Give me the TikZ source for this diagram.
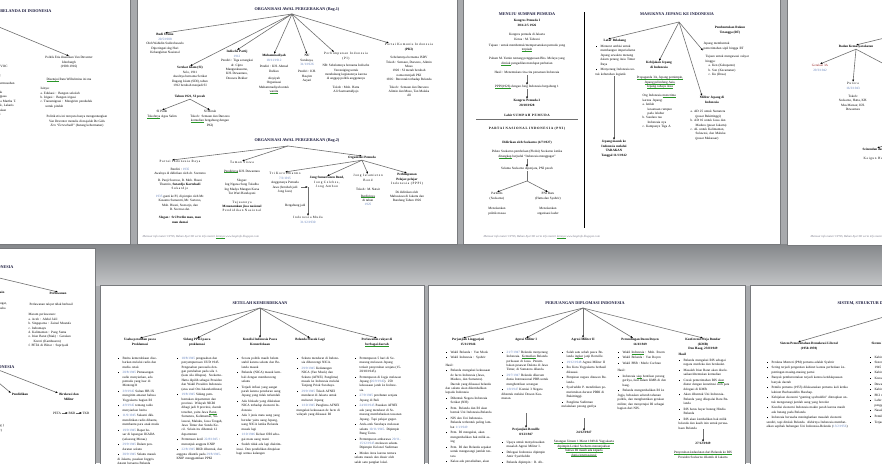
\documentclass[tikz,border=0pt]{standalone}
\usepackage{fontspec}
\setmainfont{Liberation Serif}
\usetikzlibrary{arrows.meta}
\definecolor{latar}{RGB}{168,170,173}
\definecolor{pita}{RGB}{132,135,138}
\definecolor{tepi}{RGB}{120,122,125}
\definecolor{garis}{RGB}{112,112,112}
\definecolor{tinta}{RGB}{25,25,60}
\definecolor{tanggal}{RGB}{95,125,185}
\definecolor{hijau}{RGB}{40,150,40}
\definecolor{merah}{RGB}{150,35,35}
\definecolor{abu}{RGB}{120,120,135}
\newcommand\kecil{\fontsize{3.3}{4.4}\selectfont}
\newcommand\judulfont{\fontsize{4.2}{5}\selectfont\bfseries}
\newcommand\kakifont{\fontsize{3}{3.6}\selectfont\itshape}
\newcommand\tgl[1]{\textcolor{tanggal}{#1}}
\newsavebox\kotakejaan
\newcommand\ejaan[1]{\sbox\kotakejaan{#1}\rlap{\textcolor{hijau}{\rule[-0.9pt]{\wd\kotakejaan}{0.6pt}}}\usebox\kotakejaan}
\newcommand\renggang[1]{{\addfontfeature{LetterSpace=20}#1}}
\newcommand\butir{\par\vspace{1.2pt}\hangindent=5pt\hangafter=1\noindent\makebox[5pt][l]{\rule[0.4pt]{1.1pt}{1.1pt}}}
\newcommand\subjudul[1]{\par\vspace{3pt}\noindent #1}

\begin{document}
\begin{tikzpicture}[x=1pt, y=-1pt,
  every node/.style={font=\kecil, inner sep=0.4pt},
  judul/.style={font=\judulfont, text=tinta},
  teks/.style={align=center, anchor=north},
  kepala/.style={align=center, anchor=north, font=\kecil\bfseries},
  kolom/.style={align=left, text width=#1, anchor=north west},
  panah/.style={draw=garis, line width=0.6pt, -{Latex[length=2.4pt, width=2pt, color=black]}},
  halaman/.style={fill=white, draw=tepi, line width=0.4pt},
  kaki/.style={font=\kakifont, text=abu, anchor=west}
]
\useasboundingbox (0,0) rectangle (882,463);

%% latar belakang jendela
\fill[latar] (0,0) rectangle (882,463);
\shade[top color=pita, bottom color=latar!70!white] (0,244) rectangle (882,285);

%% halaman
\path[halaman] (-2,-2) rectangle (130,244);
\path[halaman] (137,-2) rectangle (457,244);
\path[halaman] (463,-2) rectangle (780,244);
\path[halaman] (787,-2) rectangle (884,245);
\path[halaman] (-2,248) rectangle (95,465);
\path[halaman] (100,285) rectangle (424,465);
\path[halaman] (428,285) rectangle (745,465);
\path[halaman] (750,285) rectangle (884,465);

%% ---------------- halaman A : politik etis
\begin{scope}
\clip (0,0) rectangle (130,244);
\node[judul, anchor=east] (judulA) at (52,11) {KEBIJAKAN PEMERINTAH BELANDA DI INDONESIA};
\coordinate (pusatA) at (-30,15);
\node[teks] (etis) at (69,56) {Politik Etis diusulkan Van Deventer\\Idenburgh\\(1909-1916)};
\draw[panah] (pusatA) -- (etis.north);
\node[teks] (wilhelmina) at (69,78) {\ejaan{Disetujui} Ratu Wilhelmina ini ma};
\node[kolom=70pt] (isi) at (40,87) {Isinya:\\a.\ Edukasi : Bangun sekolah\\b.\ Irigasi : Bangun irigasi\\c.\ Transmigrasi : Mengirim penduduk\\\hspace*{5pt}untuk pindah};
\node[teks] (hutang) at (77,115) {Politik etis ini ternyata hanya menguntungkan\\Van Deventer menulis di majalah De Gids\\\textit{Een ``Eereschuld''} (hutang kehormatan)};
\node[kolom=78pt] (perlawananA) at (-44,65) {Perlawanan terhadap Monopoli, VOC\\[4pt]Kebijakan Daendels dan Raffles;\\[4pt]a.\ Maluku : Pattimura, sering Bermusuhan\\b.\ Perang Padri di Kesultanan\\c.\ Jawa : Diponegoro, Tapi Jenak\\d.\ Bali : Jagaraga, Jelantik Tanggasa\\e.\ Maluku : Thomas M., Cristina Martha T.\\f.\ Aceh : Teuku Umar, Cut Nyak, Lakaris\\g.\ Banjar : Antasari, Pemberontakan\\h.\ Bali : Jagaraga, Ketut I Gusti\\[4pt]i.\ Tapanuli : Singamangaraja\\j.\ Minang dipimpin Imam\\[8pt]k.\ Tokoh : Pangeran};
\end{scope}

%% ---------------- halaman B : organisasi awal pergerakan
\begin{scope}
\clip (137,0) rectangle (457,244);
\node[judul] (judulB1) at (297,10) {ORGANISASI AWAL PERGERAKAN (Bag.1)};
\coordinate (pusatB1) at (292,14);
\node[teks] (budi) at (165,33) {\textbf{Budi Utomo}\\\tgl{20/5/1908}\\Oleh Wahidin Sudirohusodo\\Diperingati sbg Hari\\Kebangkitan Nasional};
\node[teks] (si) at (190,66) {\textbf{Serekat Islam (SI)}\\Solo, 1911\\Awalnya bernama Serikat\\Dagang Islam (SDI), tahun\\1912 berubah menjadi SI};
\node[teks] (sipecah) at (190,95) {\textbf{Tahun 1921, SI pecah}};
\node[teks] (siputih) at (162,110) {SI Putih\\\ejaan{Tokohnya} Agus Salim};
\node[teks] (simerah) at (210,110) {SI Merah\\Tokoh : Semaun dan Darsono\\\ejaan{kemudian} bergabung dengan\\PKI)};
\node[teks] (ip) at (237,50) {\textbf{Indische Partij}\\\tgl{1912}\\Pendiri : Tiga serangkai\\dr. Cipto\\Mangunkusumo,\\KH. Dewantara,\\Douwes Dekker};
\node[teks] (muh) at (274,54) {\textbf{Muhammadiyah}\\\tgl{18/11/1912}\\[2pt]Pendiri : KH. Ahmad\\Dahlan\\[3pt]Aisyiyah\\Organisasi\\Muhammadiyah untuk\\\ejaan{wanita}};
\node[teks] (nu) at (307,54) {\textbf{NU}\\Surabaya,\\\tgl{31/1/1926}\\[3pt]Pendiri : KH.\\Hasyim\\Asyari};
\node[teks] (pi) at (346,52) {\renggang{Perhimpunan Indonesia}\\\renggang{(PI)}\\[3pt]NB: Sebelumnya bernama Indische\\Vereeniging untuk\\mendukung kegiatannya karena\\di anggap politik anggotanya\\[4pt]Tokoh : Moh. Hatta\\Ali Sastroamidjojo};
\node[teks] (pki) at (409,43) {\renggang{Partai Komunis Indonesia}\\\textbf{(PKI)}\\[4pt]Sebelumnya bernama ISDV\\Tokoh : Semaun, Darsono, Alimin\\Muso\\1920 : SI merah berubah\\nama menjadi PKI\\1926 : Berontak terhadap Belanda\\[3pt]Tokoh : Semaun dan Darsono\\Alimin dan Muso, Tan Malaka\\dll};

\draw[panah] (pusatB1) -- (budi.north);
\draw[panah] (pusatB1) -- (si.north);
\draw[panah] (pusatB1) -- (ip.north);
\draw[panah] (pusatB1) -- (muh.north);
\draw[panah] (pusatB1) -- (nu.north);
\draw[panah] (pusatB1) -- ([xshift=-12pt]pi.north);
\draw[panah] (pusatB1) -- ([xshift=-20pt]pki.north);
\draw[panah] (sipecah.south) -- (siputih.north);
\draw[panah] (sipecah.south) -- (simerah.north);

\node[judul] (judulB2) at (297,141) {ORGANISASI AWAL PERGERAKAN (Bag.2)};
\coordinate (pusatB2) at (288,146);
\node[teks] (parindra) at (180,160) {\renggang{Partai Indonesia Raya}\\[3pt]Berdiri : \tgl{1935}\\Awalnya di didirikan oleh dr. Soetomo\\[2pt]R. Panji Soeroso, R. Moh. Husni\\Thamrin, \textbf{Sutardjo Kartohadi}\\\renggang{Sukardjo}\\[3pt]\tgl{1935} ganti ke PI, di pimpin oleh Mr.\\Kusumo Sumantri, Mr. Sartono,\\Moh. Husni, Soenarjo, dan\\R. Soeroso dst.\\[4pt]\textbf{Slogan : Sri Perdin mau, mau}\\\textbf{mau damai}};
\node[teks] (taman) at (242,161) {\renggang{Taman Siswa}\\[4pt]\ejaan{Pendirinya} KH. Dewantara\\[5pt]Slogan:\\Ing Ngarsa Sung Tuladha\\Ing Madya Mangun Karsa\\Tut Wuri Handayani\\[4pt]\renggang{Tujuannya}\\\textbf{Menanamkan jiwa nasional}\\\renggang{Pendidikan Nasional}};
\node[kepala] (orgpemuda) at (362,156) {Organisasi Pemuda};
\node[teks] (tkd) at (285,172) {\renggang{Tri Koro Dharmo}\\\tgl{7/3/1915}\\Anggotanya Pemuda\\Jawa (berubah jadi\\Jong Java)};
\node[teks] (jsb) at (327,176) {\textbf{Jong Sumatranen Bond,}\\\renggang{Jong Celebes,}\\\renggang{Jong Ambon}};
\node[teks] (jib) at (368,174) {\renggang{Jong Islamieten}\\\renggang{Bond}\\[5pt]Tokoh : M. Natsir\\[2pt]\ejaan{Berdirinya}\\di tahun\\\tgl{1925}};
\node[teks] (pppiB) at (407,173) {\textbf{Perhimpunan}\\\textbf{Pelajar-pelajar}\\\renggang{Indonesia (PPPI)}\\[4pt]Di didirikan oleh\\Mahasiswa di Jakarta dan\\Bandung Tahun 1926};
\coordinate (gabung) at (308,187);
\node[teks] (indomuda) at (308,216) {\renggang{Indonesia Muda}\\\tgl{31/12/1930}};
\node[anchor=east] (labelgabung) at (306,206) {Bergabung jadi};

\draw[panah] (pusatB2) -- ([xshift=-8pt]parindra.north);
\draw[panah] (pusatB2) -- (taman.north);
\draw[panah] (pusatB2) -- (orgpemuda.north);
\draw[panah] (orgpemuda.south) -- (tkd.north);
\draw[panah] (orgpemuda.south) -- (jsb.north);
\draw[panah] (orgpemuda.south) -- (jib.north);
\draw[panah] (orgpemuda.south) -- (pppiB.north);
\draw[panah] (tkd.east |- gabung) -- (gabung);
\draw[panah] (gabung) -- (indomuda.north);

\node[kaki] (kakiB) at (142,237) {Memuat info materi CPNS, Bahan Ajar SD serta info materi \ejaan{lainnya} www.bagiinfo.blogspot.com};
\end{scope}

%% ---------------- halaman C : sumpah pemuda dan masuknya jepang
\begin{scope}
\clip (463,0) rectangle (780,244);
\node[judul] (judulC1) at (527,14) {MENUJU SUMPAH PEMUDA};
\node[kepala] (kp1) at (527,19) {Kongres Pemuda I\\30/4-2/5 1926};
\node[teks] (kp1isi) at (527,33) {Kongres pemuda di Jakarta\\Ketua : M. Tabrani\\[1.5pt]Tujuan : untuk membentuk/mempersatukan pemuda yang\\\ejaan{terpisah}};
\node[teks] (yamin) at (527,57) {Paham M. Yamin tentang penggunaan Bhs. Melayu yang\\\ejaan{ditolak} pengadilan mendapat perhatian};
\node[teks] (hasilkp1) at (527,71) {Hasil : Menentukan cita-cita persatuan Indonesia};
\node[teks] (pppi) at (527,85) {\ejaan{PPPI(1926)} dengan Jong Indonesia bergabung 1};
\node[kepala] (kp2) at (527,99) {Kongres Pemuda 2\\28/10/1928};
\node[kepala] (sumpah) at (527,114) {Lahir \renggang{SUMPAH PEMUDA}};
\node[kepala] (pni) at (527,127) {\renggang{PARTAI NASIONAL INDONESIA (PNI)}};
\node[kepala] (pnidiri) at (527,141) {Didirikan oleh Soekarno (4/7/1927)};
\node[teks] (pledoi) at (527,150) {Pidato Soekarno pembelaan (Pledoi) Soekarno ketika\\\ejaan{ditangkap} berjudul ``Indonesia menggugat''};
\node[teks] (pecahpni) at (527,167) {Selama Soekarno dipenjara, PNI pecah};
\coordinate (pusatPNI) at (527,181);
\node[teks] (partindo) at (497,192) {Partindo\\(Soekarno)};
\node[teks] (pnibaru) at (548,192) {PNI Baru\\(Hatta dan Syahrir)};
\node[teks] (massa) at (497,207) {Menekankan\\politik massa};
\node[teks] (kader) at (548,207) {Menekankan\\organisasi kader};

\draw[panah] (hasilkp1) -- (pppi);
\draw[panah] (pppi) -- (kp2);
\draw[garis, line width=0.6pt] (476,119) -- (578,119);
\draw[panah, line width=0.4pt] (pledoi) -- (pecahpni);
\draw[garis, line width=0.6pt] (pecahpni) -- (pusatPNI);
\draw[panah] (pusatPNI) -- (partindo.north);
\draw[panah] (pusatPNI) -- (pnibaru.north);

\draw[line width=0.7pt] (584,12) -- (584,228);

\node[judul] (judulC2) at (677,14) {MASUKNYA JEPANG KE INDONESIA};
\coordinate (pusatC2) at (679,22);
\node[kolom=42pt] (latarbelakang) at (595,39) {\hspace*{8pt}\textbf{Latar Belakang}\butir Menurut ambisi untuk membangun imperialisme Jepang sewaktu menang dalam perang Asia Timur Raya\butir Menyerang Indonesia untuk kebutuhan logistik};
\node[kepala] (tarakan) at (614,140) {Jepang masuk ke\\Indonesia melalui\\TARAKAN\\Tanggal 11/1/1942};
\node[kepala] (kebijakan) at (659,61) {Kebijakan Jepang\\di Indonesia};
\node[teks] (semboyan) at (660,76) {\ejaan{Propaganda 3A, Jepang pemimpin,}\\\ejaan{Jepang pelindung Asia,}\\\ejaan{Jepang cahaya Asia}};
\node[kolom=40pt] (alasan) at (642,94) {Org Indonesia \ejaan{menerima} karena Jepang:\\a.\ Istilah\\\hspace*{5pt}kesamaan rumpun\\\hspace*{5pt}pada leluhur\\b.\ Saudara tua\\\hspace*{5pt}Indonesia nya\\c.\ Kampanye Tiga A};
\node[kepala] (militer) at (712,96) {Militer Jepang di\\Indonesia};
\node[kolom=48pt] (wilayah) at (690,110) {a.\ AD 25 untuk Sumatera\\\hspace*{5pt}(pusat Bukittinggi)\\b.\ AD 16 untuk Jawa dan\\\hspace*{5pt}Madura (pusat Jakarta)\\c.\ AL untuk Kalimantan,\\\hspace*{5pt}Sulawesi, dan Maluku\\\hspace*{5pt}(pusat Makassar)};
\node[kolom=46pt] (sipil) at (703,42) {Jepang membentuk\\pemerintahan sipil hingga RT};
\node[kolom=48pt] (tujuanRT) at (705,55) {Tujuan untuk mengawasi rakyat\\hingga:\\\hspace*{3pt}a.\ Ken (Kabupaten)\\\hspace*{3pt}b.\ Son (Kecamatan)\\\hspace*{3pt}c.\ Ku (Desa)};
\node[kepala] (rt) at (730,26) {Pembentukan Rukun\\Tetangga (RT)};

\draw[panah] (pusatC2) -- ([xshift=13pt]latarbelakang.north west);
\draw[panah] (latarbelakang.south -| tarakan.north) -- (tarakan.north);
\draw[panah] (pusatC2) -- (kebijakan.north);
\draw[panah] (pusatC2) -- ([xshift=-10pt]militer.north);
\draw[panah] (pusatC2) -- (sipil.south west);

\node[kaki] (kakiC) at (483,237) {Memuat info materi CPNS, Bahan Ajar SD serta info materi \ejaan{lainnya} www.bagiinfo.blogspot.com};
\end{scope}

%% ---------------- halaman D : organisasi bentukan jepang
\begin{scope}
\clip (787,0) rectangle (882,245);
\coordinate (pusatD) at (905,33);
\node[kepala] (badan) at (856,45) {Badan Kemasyarakatan};
\node[teks] (gerakan) at (820,64) {\textcolor{merah}{Gerakan 3A}\\\tgl{29/3/1942}};
\node[teks] (putera) at (853,82) {\renggang{Putera}\\\tgl{16/3/1943}\\[4pt]Tokoh:\\Soekarno, Hatta, KH.\\Mas Mansur, KH.\\Dewantara};
\coordinate (kananD) at (905,75);
\coordinate (pusatD2) at (905,139);
\node[anchor=north west, font=\kecil\bfseries] (seinendan) at (862,148) {Seinendan dan Keibodan};
\node[anchor=north west] (heiho) at (863,157) {\renggang{Kaigun Heiho}};

\draw[panah] (pusatD) -- (badan.north);
\draw[panah] (badan.south) -- (gerakan.north);
\draw[panah] (badan.south) -- (putera.north);
\draw[panah] (badan.south) -- (kananD);
\draw[panah] (pusatD2) -- ([xshift=15pt]seinendan.north west);

\node[kaki] (kakiD) at (810,237) {Memuat info materi CPNS, Bahan Ajar SD serta info materi};
\end{scope}

%% ---------------- halaman E : pendudukan jepang
\begin{scope}
\clip (0,248) rectangle (95,463);
\node[judul, anchor=east] (judulE1) at (14,267) {PENDUDUKAN JEPANG DI INDONESIA};
\coordinate (pusatE1) at (-30,271);
\node[kepala] (perlawanan) at (58,292) {Perlawanan};
\node[anchor=east, font=\kecil\bfseries] (bidanglain) at (5,293) {Bidang lain};
\node[anchor=west] (gagal) at (29,305) {Perlawanan rakyat tidak berhasil};
\node[kolom=66pt] (daftarE) at (28,313) {Macam perlawanan:\\a.\ Aceh : Abdul Jalil\\b.\ Singaparna : Zainal Mustafa\\c.\ Indramayu\\d.\ Kalimantan : Pang Suma\\e.\ Irian Barat (Biak) : Gerakan\\\hspace*{5pt}Koreri (Kambuaren)\\f.\ PETA di Blitar : Supriyadi};
\node[kolom=60pt] (romusha) at (-43,302) {Romusha : kerja paksa yang sangat,\\menyengsarakan rakyat. ``Romusha\\dalam perang kemerdekaan\\itu terkenal''};
\draw[panah] (pusatE1) -- (perlawanan.north);

\node[judul, anchor=east] (judulE2) at (15,367) {PENGARUH PENDUDUKAN JEPANG DI INDONESIA};
\coordinate (pusatE2) at (-30,359);
\node[kepala] (pendidikan) at (20,393) {Pendidikan};
\node[kepala] (birokrasi) at (69,393) {Birokrasi dan\\Militer};
\node (peta) at (57,413) {PETA};
\node (bkr) at (72,413) {BKR};
\node (tkr) at (86,413) {TKR};
\node[kolom=95pt] (sekolah) at (-50,402) {Dihapuskan tingkat dasar (6 thn);\\Bahasa Indonesia dijadikan bhs\\pengantar sekolah\\Bahasa Jepang dan bahasa Jepang\\menjadi penggunaan tinggi. salin\\Sekolah (Indonesia) Teknik (Bandung )\\Kedokteran (Jakarta) lanjutan (Bogor)};
\draw[panah] (pusatE2) -- ([xshift=-9pt]pendidikan.north);
\draw[panah] (pusatE2) -- ([xshift=-11pt]birokrasi.north);
\draw[panah] (peta) -- (bkr);
\draw[panah] (bkr) -- (tkr);
\end{scope}

%% ---------------- halaman F : setelah kemerdekaan
\begin{scope}
\clip (100,285) rectangle (424,463);
\node[judul] (judulF) at (260,303) {SETELAH KEMERDEKAAN};
\coordinate (pusatF) at (260,308);
\node[kepala] (f1) at (140,338) {Usaha peralihan pasca\\Proklamasi};
\node[kepala] (f2) at (197,338) {Sidang PPKI pasca\\proklamasi};
\node[kepala] (f3) at (260,338) {Kondisi Indonesia Pasca\\Kemerdekaan};
\node[kepala] (f4) at (310,338) {Belanda Masuk Lagi};
\node[kepala] (f5) at (377,338) {Perlawanan rakyat di\\\ejaan{berbagai daerah}};
\foreach \kol in {f1,f2,f3,f4,f5}
  \draw[panah] (pusatF) -- (\kol.north);

\node[kolom=42pt] (kolF1) at (117,353) {\butir Berita kemerdekaan disebarkan melalui radio dan media cetak\butir \tgl{20/8/1945} Pemasangan radio menyiarkan, ada pemuda yang luar di Menteng31\butir \tgl{3/9/1945} Sultan HB IX mengirim amanat bahwa Yogyakarta bagian RI\butir \tgl{4/9/1945} tentang radio menyiarkan berita\butir \tgl{11/9/1945} Sukarni dkk. mendirikan radio dibantu, membantu para anak muda\butir \tgl{19/9/1945} Rapat besar di lapangan IKADA (sekarang Monas)\butir \tgl{29/9/1945} Dalam pendaratan sekutu\butir \tgl{30/9/1945} Sekutu masuk di Jakarta, pasukan Inggris datang bersama Belanda};
\node[kolom=46pt] (kolF2) at (176,353) {\butir \tgl{18/8/1945} pengesahan dan penyempurnaan UUD 1945. Pengesahan pancasila dengan perubahan pada sila 1. (kata sila dihapus). Soekarno-Hatta dipilih sebagai Presiden dan Wakil Presiden Indonesia (atas usul Oto Iskandardinata)\butir \tgl{19/8/1945} Sidang pembentukan departemen dan provinsi. Wilayah NKRI dibagi jadi 8 provinsi, daerah tersebut, yaitu Jawa \ejaan{Barat}, Sumatera, Kalimantan, Sulawesi, Maluku, Jawa Tengah, Jawa Timur dan Sunda Kecil. Selain itu dibentuk 12 departemen\butir Pertemuan kecil \tgl{22/8/1945} : menunjuk anggota KNIP\butir \tgl{22/8/1945} BKR dibentuk, dan anggota dilantik pada \tgl{29/8/1945}. KNIP menggantikan PPKI};
\node[kolom=45pt] (kolF3) at (236,353) {\butir Secara politik masih belum stabil karena sekutu dan Belanda masuk\butir Belanda (NICA) masuk kembali dengan membonceng sekutu\butir Terjadi inflasi yang sangat parah karena peredaran uang Jepang yang tidak terkendali\butir Ada blokade yang dilakukan NICA terhadap ekonomi Indonesia\butir Ada 3 jenis mata uang yang beredar yaitu uang Jepang, uang NICA ketika Belanda masuk lagi\butir \tgl{1/10/1946} Keluar ORI sebagai mata uang resmi\butir Sudah tidak ada lagi diskriminasi. Dan pendidikan ditujukan bagi semua kalangan};
\node[kolom=44pt] (kolF4) at (296,353) {\butir Sekutu mendarat di Indonesia diboncengi NICA.\butir \tgl{29/9/1945} Kedatangan NICA (Van Mook) dan Sekutu (AFNEI, Panglima) masuk ke Indonesia melalui Tanjung Priok Surabaya.\butir \tgl{29/9/1945} Tokoh AFNEI mendarat di Jakarta untuk melucuti Jepang\butir \tgl{1/10/1945} Panglima AFNEI mengakui kekuasaan de facto di wilayah yang dikuasai RI};
\node[kolom=47pt] (kolF5) at (354,353) {\butir Pertempuran 5 hari di Semarang melawan Jepang terkait penyerahan senjata (15-20/10/1945).\butir Pertempuran di Jogja melawan Jepang (\tgl{26/9/1945}). 250 kekuasaan jatuh ke Indonesia.\butir \tgl{27/9/1945} perebutan senjata Jepang di Bali\butir \tgl{24/10/1945} Pasukan AFNEI ada yang mendarat di Semarang membebaskan tawanan Jepang. Tapi pelajar gugur.\butir Arek-arek Surabaya melawan sekutu \tgl{10/11/1945}. Dipimpin Bung Tomo.\butir Pertempuran ambarawa \tgl{20/11-15/12/1945} melawan sekutu. Dipimpin Kolonel Sudirman\butir Medan Area karena tentara sekutu masuk dan diusir oleh salah satu pangkat lokal.};
\end{scope}

%% ---------------- halaman G : perjuangan diplomasi
\begin{scope}
\clip (428,285) rectangle (745,463);
\node[judul] (judulG) at (585,303) {PERJUANGAN DIPLOMASI INDONESIA};
\coordinate (pusatG) at (583,308);
\node[kepala] (g1) at (468,338) {Perjanjian Linggarjati\\15/11/1946};
\node[kepala] (g2) at (526,338) {Agresi Militer I};
\node[kepala] (g3) at (583,338) {Agresi Militer II};
\node[kepala] (g4) at (640,338) {Perundingan Roem Royen\\14/4/1949};
\node[kepala] (g5) at (703,338) {Konferensi Meja Bundar\\(KMB)\\Den Haag, 23/8/1949};
\draw[panah] (pusatG) -- ([xshift=-5pt]g1.north);
\draw[panah] (pusatG) -- (g2.north);
\draw[panah] (pusatG) -- (g3.north);
\draw[panah] (pusatG) -- ([xshift=-7pt]g4.north);
\draw[panah] (pusatG) -- (g5.north);

\node[kolom=47pt] (kolG1) at (445,347) {\butir Wakil Belanda : Van Mook\butir Wakil Indonesia : Syahrir\subjudul{Hasil:}\butir Belanda mengakui kekuasaan de facto Indonesia (Jawa, Madura, dan Sumatera).\par\hspace*{5pt}Daerah yang dikuasai belanda dan sekutu akan dikembalikan kepada Indonesia\butir Dibentuk Negara Indonesia Serikat (NIS)\butir Pem. Belanda dan RI akan bentuk Uni Indonesia-Belanda\butir NIS dan Uni Indonesia-Belanda terbentuk paling lambat \tgl{1/1/1949}\butir Pem. RI mengakui, akan mengembalikan hak milik asing\butir Pem. RI dan Belanda sepakat untuk mengurangi jumlah tentara\butir Kalau ada perselisihan, akan diselesaikan oleh komisi arbitrase};
\node[kolom=48pt] (kolG2) at (501,347) {\butir \tgl{21/7/1947} Belanda menyerang Indonesia. \ejaan{Kemudian} Belanda perluasan di Jawa. Penembakan pesawat Dakota di Jawa Timur, di Sumatera dilanda.\butir \tgl{29/7/1947} Belanda dikecam dunia Internasional PBB untuk menghentikan serangan\butir \tgl{1/8/1947} Komisi 3 Negara dibentuk melalui Dewan Keamanan.};
\node[kepala] (renville) at (526,428) {Perjanjian Renville\\8/12/1947};
\node[kolom=48pt] (kolG2b) at (501,437) {\butir Upaya untuk menyelesaikan masalah Agresi Militer I.\butir Delegasi Indonesia dipimpin Amir Syarifuddin\butir Belanda dipimpin : R. Abdulkadir Widjojoatmodjo};
\draw[panah] (526,413) -- (renville.north);
\node[kolom=46pt] (kolG3) at (561,347) {\butir Salah satu sebab pasca Belanda \ejaan{ingkar} janji Renville.\butir \tgl{19/12/1948} Agresi Militer II\butir Ibu Kota Yogyakarta berhasil dikuasai.\butir Pimpinan negara ditawan Belanda.\butir Syafruddin P. mendirikan pemerintahan darurat PDRI di Bukittinggi.\butir Panglima Sudirman melakukan perang gerilya};
\node[kepala] (serangan) at (584,431) {24/12/1947};
\node[teks] (serangancatat) at (584,440) {\ejaan{Serangan Umum 1 Maret 1949 di Yogyakarta}\\\ejaan{dipimpin Letkol Soeharto menunjukkan}\\\ejaan{bahwa RI masih ada kepada}\\\ejaan{dunia internasional}};
\draw[panah] (584,418) -- (serangan.north);
\node[kolom=49pt] (kolG4) at (617,347) {\butir Wakil \ejaan{Indonesia} : Moh. Roem\butir Wakil Belanda : Van Royen\butir Wakil PBB : Merle Cochran\subjudul{Hasil:}\butir Indonesia \ejaan{siap} hentikan perang gerilya, ikut dalam KMB di den haag.\butir Belanda mengembalikan RI ke Jogja, bebaskan seluruh tahanan politik, dan menghentikan gerakan militer, dan menyetujui RI sebagai bagian dari NIS.};
\node[kolom=51pt] (kolG5) at (678,353) {\textbf{Hasil}\butir Belanda mengakui RIS sebagai negara merdeka dan berdaulat.\butir Masalah Irian Barat akan diselesaikan/ditentukan kemudian\butir Corak pemerintahan RIS \ejaan{akan} diatur dengan konstitusi oleh para delegasi di KMB.\butir Akan dibentuk Uni Indonesia-Belanda yang dikepalai Ratu Belanda\butir RIS harus bayar hutang Hindia Belanda\butir RIS akan kembalikan hak milik belanda dan kasih izin untuk perusahaan Belanda};
\node[kepala] (kedaulatan) at (703,442) {27/12/1949};
\node[teks] (kedaulatancatat) at (703,451) {\ejaan{Penyerahan kedaulatan dari Belanda ke RIS}\\Presiden Soekarno dilantik di Jakarta};
\draw[panah] (703,429) -- (kedaulatan.north);
\end{scope}

%% ---------------- halaman H : sistem pemerintahan
\begin{scope}
\clip (750,285) rectangle (882,463);
\node[judul, anchor=west] (judulH) at (837,303) {SISTEM, STRUKTUR DAN FUNGSI PEMERINTAHAN};
\coordinate (pusatH) at (925,305);
\node[kepala] (demlib) at (809,342) {Sistem Pemerintahan Demokrasi Liberal\\(1950-1959)};
\draw[panah] (pusatH) -- ([xshift=-11pt]demlib.north);
\node[kolom=84pt] (kolH1) at (766,357) {\butir Perdana Menteri (PM) pertama adalah Syahrir\butir Sering terjadi pergantian kabinet karena perbedaan kepentingan masing-masing partai\butir Banyak pemberontakan terjadi karena ketidakpuasan banyak daerah\butir Pemilu pertama (1955) dilaksanakan pertama kali ketika kabinet Burhanuddin Harahap.\butir Kebijakan ekonomi ``gunting syafruddin'' diterapkan untuk mengurangi jumlah uang yang beredar\butir Kondisi ekonomi Indonesia makin parah karena masih ada hutang pada Belanda\butir Indonesia berusaha meningkatkan masalah ekonomi sendiri, tapi ditolak Belanda. Akhirnya Indonesia membatalkan sepihak hubungan Uni Indonesia-Belanda (\tgl{13/2/1956})};
\node[kepala, anchor=north west] (terpimpin) at (871,342) {Sistem Pemerintahan Demokrasi Terpimpin};
\node[kolom=70pt] (kolH2) at (869,352) {\butir Kabinet karya diganti oleh kabinet kerja\butir Sistem demokrasi terpimpin berdasarkan UUD 1945\butir Kabinet dipimpin langsung oleh presiden\butir Konsepsi presiden dibentuk\butir Dewan Nasional\butir Kabinet gotong royong\butir PKI makin kuat\butir Lahir kebijakan ekonomi benteng baru sebagai pengganti\butir Nasakom\butir Pemilu ditiadakan\butir Terjadi inflasi};
\end{scope}

\end{tikzpicture}
\end{document}
